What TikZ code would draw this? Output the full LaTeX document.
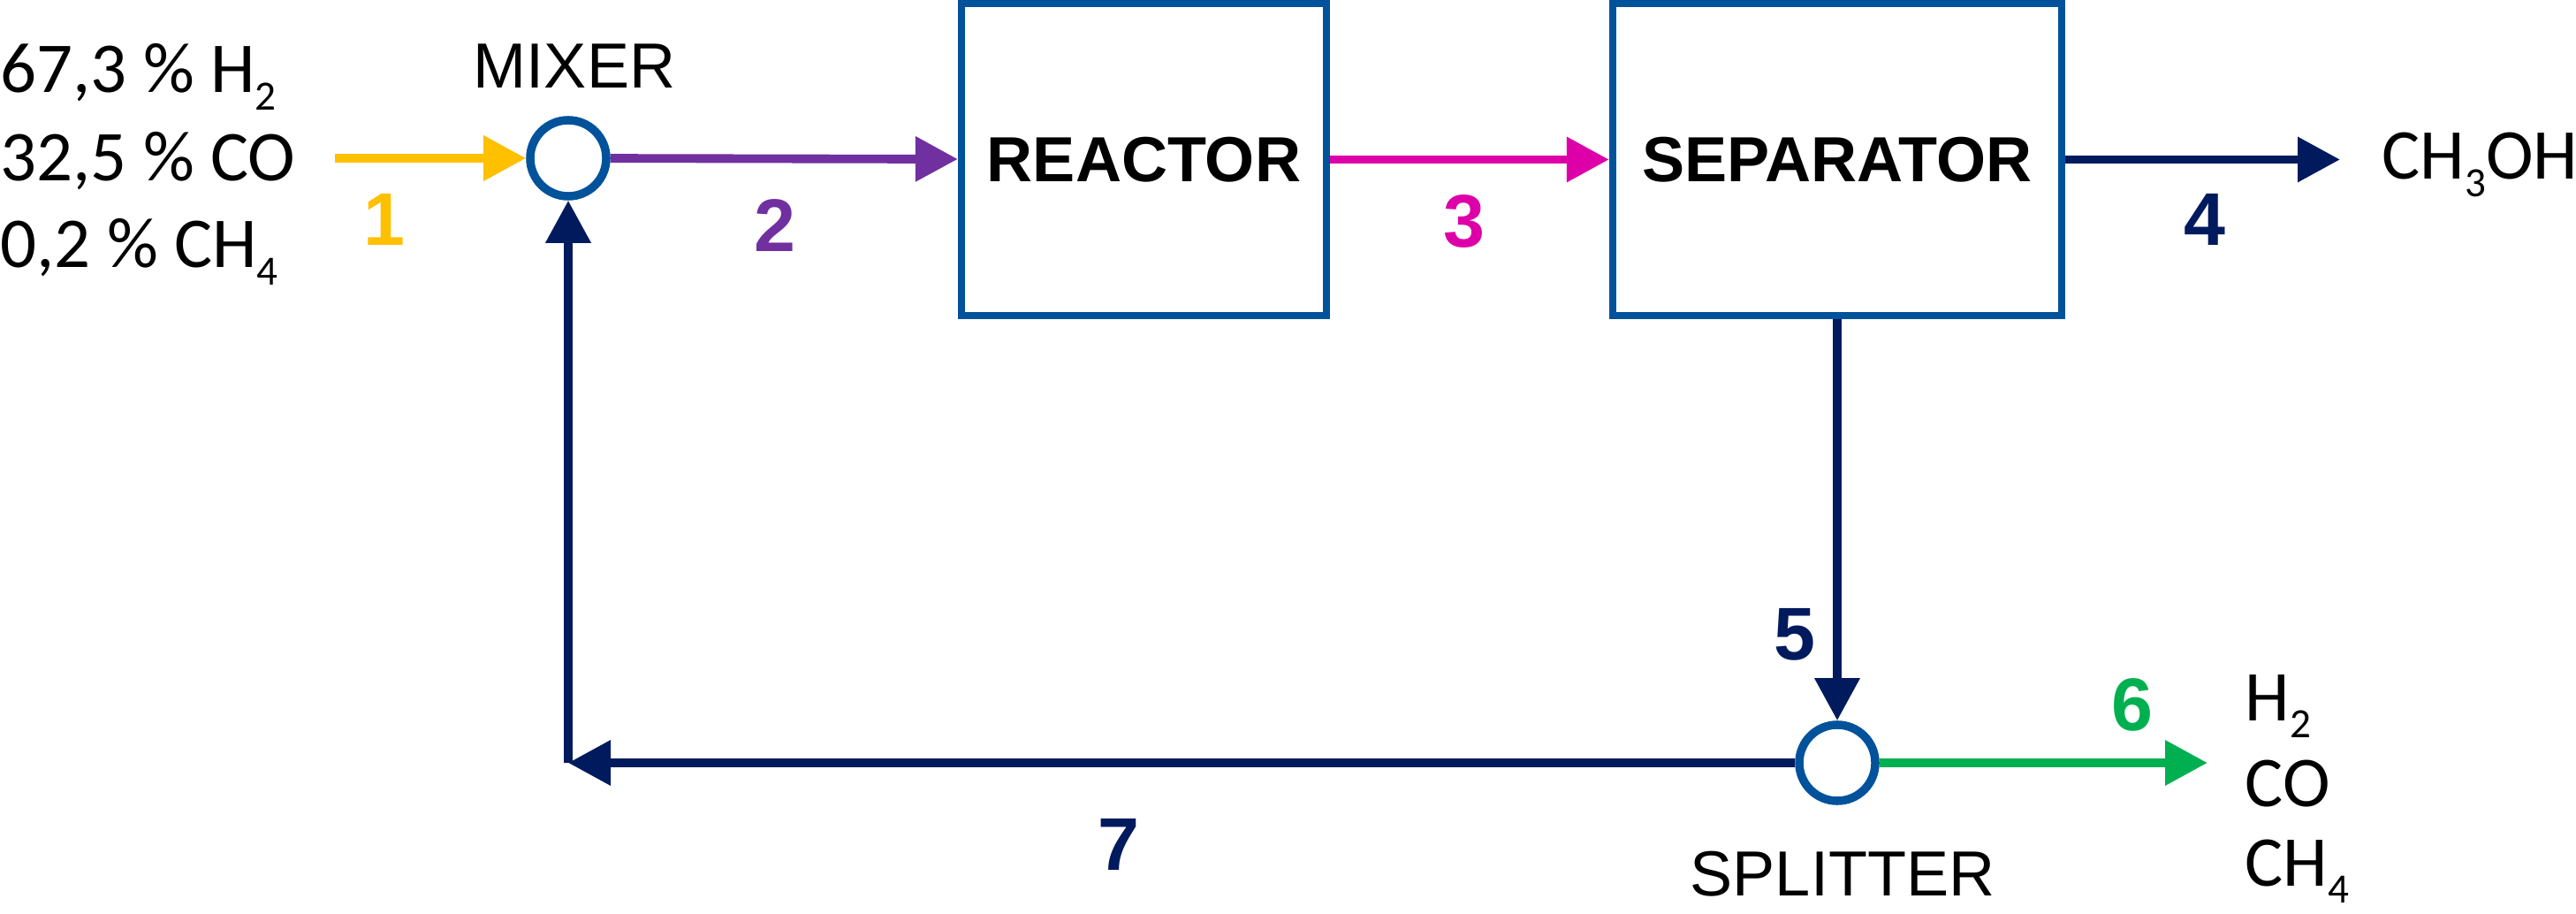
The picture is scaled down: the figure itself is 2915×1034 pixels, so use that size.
\documentclass[tikz,border=0pt]{standalone}
\usepackage{fontspec}
\setmainfont{Liberation Sans}
\newfontfamily\chemfont{Carlito}
\usetikzlibrary{arrows.meta, positioning}
\definecolor{flowyellow}{HTML}{FFC000}
\definecolor{flowpurple}{HTML}{7030A0}
\definecolor{flowmagenta}{HTML}{DD00A8}
\definecolor{flownavy}{HTML}{001A5E}
\definecolor{flowgreen}{HTML}{00B050}
\definecolor{unitblue}{HTML}{00529B}
\newcommand{\chemsub}[1]{\raisebox{-5.5pt}{\fontsize{13.4}{14}\selectfont #1}}

\begin{document}
\begin{tikzpicture}[
    x=0.01cm, y=-0.01cm,
    unit/.style={
        rectangle,
        draw=unitblue,
        line width=2.3pt,
        fill=white,
        minimum width=#1,
        minimum height=3.53cm,
        inner sep=0pt,
        font=\fontsize{20.5}{24}\selectfont\bfseries
    },
    junction/.style={
        circle,
        draw=unitblue,
        line width=2.7pt,
        fill=white,
        minimum size=0.86cm,
        inner sep=0pt
    },
    stream/.style={
        -{Triangle[length=4.8mm, width=4.9mm]},
        line width=2.8pt,
        #1
    },
    num/.style={
        anchor=base,
        inner sep=0pt,
        font=\fontsize{24}{28}\selectfont\bfseries,
        #1
    },
    txt/.style={
        inner sep=0pt,
        font=\fontsize{20.5}{24}\selectfont
    },
    chem/.style={
        anchor=base west,
        inner sep=0pt,
        font=\chemfont\fontsize{23}{27}\selectfont
    }
]
\useasboundingbox (0,0) rectangle (2915,1034);

% Units
\node[unit=4.13cm] (reactor) at (1294.5,180.5) {REACTOR};
\node[unit=5.08cm] (separator) at (2079,180.5) {SEPARATOR};
\node[junction] (mixer) at (643,179) {};
\node[junction] (splitter) at (2079,863) {};

% Free ends
\coordinate (feedin) at (379,179);
\coordinate (product) at (2648,180.5);
\coordinate (purge) at (2498,863);
\coordinate (corner) at (mixer |- splitter);

% Streams
\draw[stream=flowyellow] (feedin) -- (mixer);
\draw[stream=flowpurple] (mixer) -- (reactor);
\draw[stream=flowmagenta] (reactor) -- (separator);
\draw[stream=flownavy] (separator.east) -- (product);
\draw[stream=flownavy] (separator) -- (splitter);
\draw[stream=flowgreen] (splitter) -- (purge);
\draw[stream=flownavy] (splitter) -- (corner);
\draw[stream=flownavy] (corner) -- (mixer);

% Stream numbers
\node[num=flowyellow] (n1) at (435,278) {1};
\node[num=flowpurple] (n2) at (877,285) {2};
\node[num=flowmagenta] (n3) at (1657,280) {3};
\node[num=flownavy] (n4) at (2495,278) {4};
\node[num=flownavy] (n5) at (2031,747) {5};
\node[num=flowgreen] (n6) at (2413,827) {6};
\node[num=flownavy] (n7) at (1266,984) {7};

% Labels
\node[txt, anchor=base] (mixerlabel) at (650,100) {MIXER};
\node[txt, anchor=base] (splitterlabel) at (2085,1013) {SPLITTER};
\node[chem] (feedA) at (0,105) {67,3 \% H\chemsub{2}};
\node[chem] (feedB) at (0,205) {32,5 \% CO};
\node[chem] (feedC) at (0,303) {0,2 \% CH\chemsub{4}};
\node[chem] (methanol) at (2695,203) {CH\chemsub{3}OH};
\node[chem] (purgeA) at (2540,815) {H\chemsub{2}};
\node[chem] (purgeB) at (2540,912) {CO};
\node[chem] (purgeC) at (2540,1002) {CH\chemsub{4}};

\end{tikzpicture}
\end{document}
